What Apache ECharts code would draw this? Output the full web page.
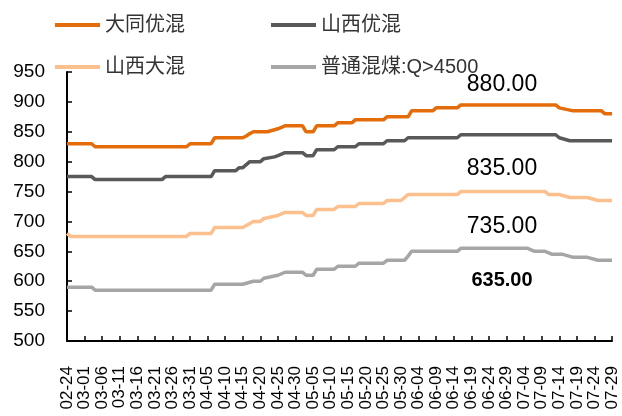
<!DOCTYPE html>
<html>
<head>
<meta charset="utf-8">
<script src="https://cdn.jsdelivr.net/npm/echarts@6/dist/echarts.min.js"></script>
<style>
  html, body { margin: 0; padding: 0; background: #fff; }
  #chart { width: 622px; height: 416px; }
</style>
</head>
<body>
<div id="chart"></div>
<script>
// x 轴刻度标签（每 5 天一个）
var dateLabels = ['02-24', '03-01', '03-06', '03-11', '03-16', '03-21', '03-26', '03-31',
  '04-05', '04-10', '04-15', '04-20', '04-25', '04-30', '05-05', '05-10', '05-15', '05-20',
  '05-25', '05-30', '06-04', '06-09', '06-14', '06-19', '06-24', '06-29', '07-04', '07-09',
  '07-14', '07-19', '07-24', '07-29'];

var seriesNames = ['大同优混', '山西优混', '山西大混', '普通混煤:Q>4500'];

// [距 02-24 的天数, 价格]，只记拐点
var datongYouhun = [[0, 830], [7, 830], [8, 825], [34, 825], [35, 830], [41, 830], [42, 840],
  [50, 840], [51, 843], [52, 847], [53, 850], [57, 850], [60, 855], [62, 860], [67, 860],
  [68, 850], [70, 850], [71, 860], [76, 860], [77, 865], [81, 865], [82, 870], [90, 870],
  [91, 875], [97, 875], [98, 885], [104, 885], [105, 890], [111, 890], [112, 895],
  [139, 895], [140, 890], [144, 885], [152, 885], [153, 880], [155, 880]];

var shanxiYouhun = [[0, 775], [7, 775], [8, 770], [27, 770], [28, 775], [41, 775], [42, 785],
  [48, 785], [49, 790], [50, 790], [52, 800], [55, 800], [56, 805], [59, 808], [60, 810],
  [62, 815], [67, 815], [68, 810], [70, 810], [71, 820], [76, 820], [77, 825], [82, 825],
  [83, 830], [90, 830], [91, 835], [96, 835], [97, 840], [111, 840], [112, 845],
  [139, 845], [140, 840], [143, 835], [155, 835]];

var shanxiDahun = [[0, 680], [1, 675], [34, 675], [35, 680], [41, 680], [42, 690], [50, 690],
  [53, 700], [55, 700], [56, 705], [60, 710], [62, 715], [67, 715], [68, 710], [70, 710],
  [71, 720], [76, 720], [77, 725], [82, 725], [83, 730], [90, 730], [91, 735], [95, 735],
  [96, 740], [97, 745], [111, 745], [112, 750], [136, 750], [137, 745], [140, 745],
  [143, 740], [148, 740], [151, 735], [155, 735]];

var putongHunmei = [[0, 590], [7, 590], [8, 585], [41, 585], [42, 595], [50, 595], [53, 600],
  [55, 600], [56, 605], [60, 610], [62, 615], [67, 615], [68, 610], [70, 610], [71, 620],
  [76, 620], [77, 625], [82, 625], [83, 630], [90, 630], [91, 635], [96, 635], [97, 642],
  [98, 650], [111, 650], [112, 655], [131, 655], [133, 650], [136, 650], [138, 645],
  [141, 645], [144, 640], [148, 640], [151, 635], [155, 635]];

var colors = ['#E46C0A', '#595959', '#FCC08F', '#A6A6A6'];

var chart = echarts.init(document.getElementById('chart'));

function lineSeries(name, data, color) {
  return {
    name: name,
    type: 'line',
    data: data,
    symbol: 'none',
    lineStyle: { width: 3.5, color: color },
    itemStyle: { color: color },
    animation: false
  };
}

var legendText = { fontSize: 20, color: '#333', fontFamily: 'Liberation Sans, Noto Sans CJK SC' };

chart.setOption({
  color: colors,
  grid: { left: 67, right: 10, top: 72, bottom: 75 },
  legend: [
    {
      data: [seriesNames[0], seriesNames[1]],
      left: 55, top: 15, padding: 0,
      icon: 'rect', itemWidth: 45, itemHeight: 4, itemGap: 86,
      textStyle: legendText
    },
    {
      data: [seriesNames[2], seriesNames[3]],
      left: 55, top: 57, padding: 0,
      icon: 'rect', itemWidth: 45, itemHeight: 4, itemGap: 86,
      textStyle: legendText
    }
  ],
  xAxis: {
    type: 'value',
    min: 0, max: 155, interval: 5,
    splitLine: { show: false },
    axisLine: { show: true, lineStyle: { color: '#000', width: 2 } },
    axisTick: { show: true, inside: true, length: 5, lineStyle: { color: '#000', width: 1.5 } },
    axisLabel: {
      rotate: 90, margin: 25,
      showMinLabel: true, showMaxLabel: true,
      fontSize: 17, color: '#000', fontFamily: 'Liberation Sans',
      formatter: function (v) { return dateLabels[Math.round(v / 5)]; }
    }
  },
  yAxis: {
    type: 'value',
    min: 500, max: 950, interval: 50,
    splitLine: { show: false },
    axisLine: { show: true, lineStyle: { color: '#000', width: 2 } },
    axisTick: { show: true, inside: true, length: 5, lineStyle: { color: '#000', width: 1.5 } },
    axisLabel: { margin: 22, fontSize: 19, color: '#000', fontFamily: 'Liberation Sans' }
  },
  graphic: [
    { type: 'text', x: 502, y: 85, style: { text: '880.00', fontSize: 23, fontFamily: 'Liberation Sans', fill: '#000', align: 'center', verticalAlign: 'middle' } },
    { type: 'text', x: 502, y: 169, style: { text: '835.00', fontSize: 23, fontFamily: 'Liberation Sans', fill: '#000', align: 'center', verticalAlign: 'middle' } },
    { type: 'text', x: 502, y: 227, style: { text: '735.00', fontSize: 23, fontFamily: 'Liberation Sans', fill: '#000', align: 'center', verticalAlign: 'middle' } },
    { type: 'text', x: 502, y: 280, style: { text: '635.00', fontSize: 20, fontWeight: 'bold', fontFamily: 'Liberation Sans', fill: '#000', align: 'center', verticalAlign: 'middle' } }
  ],
  series: [
    lineSeries(seriesNames[0], datongYouhun, colors[0]),
    lineSeries(seriesNames[1], shanxiYouhun, colors[1]),
    lineSeries(seriesNames[2], shanxiDahun, colors[2]),
    lineSeries(seriesNames[3], putongHunmei, colors[3])
  ]
});
</script>
</body>
</html>
